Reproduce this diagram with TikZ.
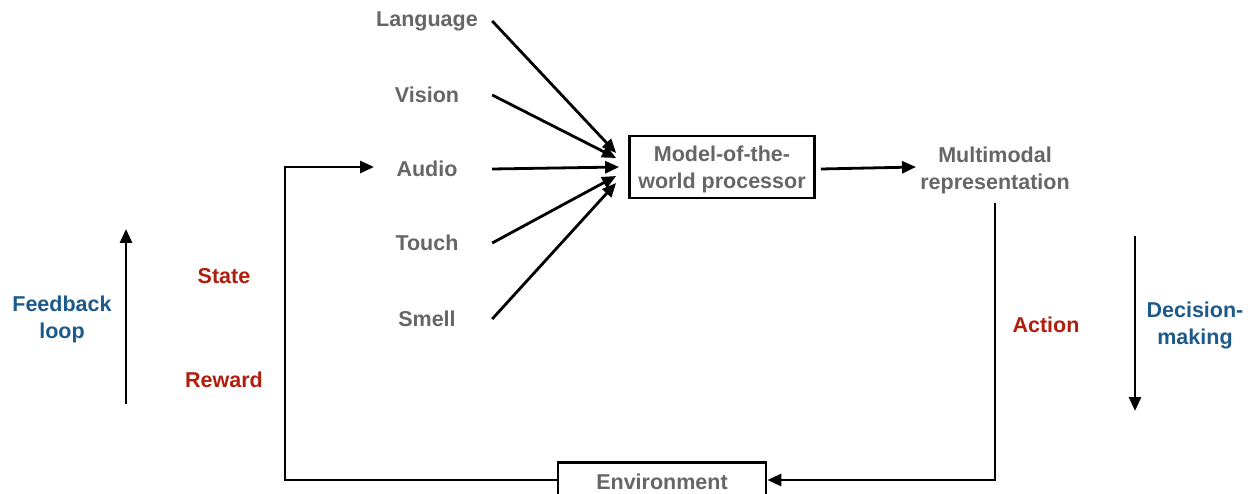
\documentclass[tikz,border=0pt]{standalone}
\usepackage{fontspec}
\setmainfont{Liberation Sans}
\usetikzlibrary{arrows.meta,calc}
\definecolor{txtgray}{HTML}{666666}
\definecolor{txtred}{HTML}{B01E0E}
\definecolor{txtblue}{HTML}{1D5A8C}
\begin{document}
\begin{tikzpicture}[x=1pt,y=-1pt,
  lbl/.style={font=\fontsize{21.5}{27}\selectfont\bfseries, text=txtgray, inner sep=0pt, align=center},
  src/.style={lbl, text width=130pt},
  redlbl/.style={lbl, text=txtred},
  bluelbl/.style={lbl, text=txtblue},
  boxnode/.style={lbl, draw=black, line width=2.8pt, inner xsep=8pt, inner ysep=7pt},
  conn/.style={line width=2.8pt, draw=black},
  arr/.style={conn, -{Triangle[length=14pt,width=12pt]}}]
\useasboundingbox (0,0) rectangle (1252,494);

% source labels
\node[src] (lang)  at (427,21)  {Language};
\node[src] (vis)   at (427,95)  {Vision};
\node[src] (aud)   at (427,169) {Audio};
\node[src] (touch) at (427,243) {Touch};
\node[src] (smell) at (427,319) {Smell};

% processor box
\node[boxnode, minimum width=185pt, minimum height=62pt] (proc) at (722,167) {};
\node[lbl] (proct) at (722,169) {Model-of-the-\\world processor};

% multimodal representation
\node[lbl] (multi) at (995,170) {Multimodal\\representation};

% environment box
\node[boxnode, minimum width=208pt, minimum height=40pt, anchor=north] (env) at (662,461) {};
\node[lbl] (envt) at (662,482) {Environment};

% side labels
\node[bluelbl] (fb) at (62,319) {Feedback\\loop};
\node[redlbl] (state) at (224,276) {State};
\node[redlbl] (reward) at (224,380) {Reward};
\node[redlbl] (action) at (1046,325) {Action};
\node[bluelbl] (dm) at (1195,325) {Decision-\\making};

% converging arrows
\draw[arr] (lang.east)  -- ([xshift=-12pt,yshift=14pt]proc.west);
\draw[arr] (vis.east)   -- ([xshift=-12pt,yshift=9pt]proc.west);
\draw[arr] (aud.east)   -- ([xshift=-9pt,yshift=0pt]proc.west);
\draw[arr] (touch.east) -- ([xshift=-12pt,yshift=-9pt]proc.west);
\draw[arr] (smell.east) -- ([xshift=-12pt,yshift=-16pt]proc.west);

% processor to multimodal
\draw[arr] ([xshift=5pt,yshift=-2pt]proc.east) -- (916,167);

% action loop
\coordinate (mdown) at (995,203);
\coordinate (mcorner) at (995,480);
\draw[arr] (mdown) -- (mcorner) -- (env.east |- mcorner);

% feedback loop
\coordinate (lcorner) at (285,480);
\coordinate (ucorner) at (285,167);
\coordinate (audin) at (374,167);
\draw[arr] (env.west |- lcorner) -- (lcorner) -- (ucorner) -- (audin);

% side arrows
\coordinate (fbbot) at (126,404);
\coordinate (fbtop) at (126,229);
\draw[arr] (fbbot) -- (fbtop);
\coordinate (dmtop) at (1135,236);
\coordinate (dmbot) at (1135,411);
\draw[arr] (dmtop) -- (dmbot);
\end{tikzpicture}
\end{document}
